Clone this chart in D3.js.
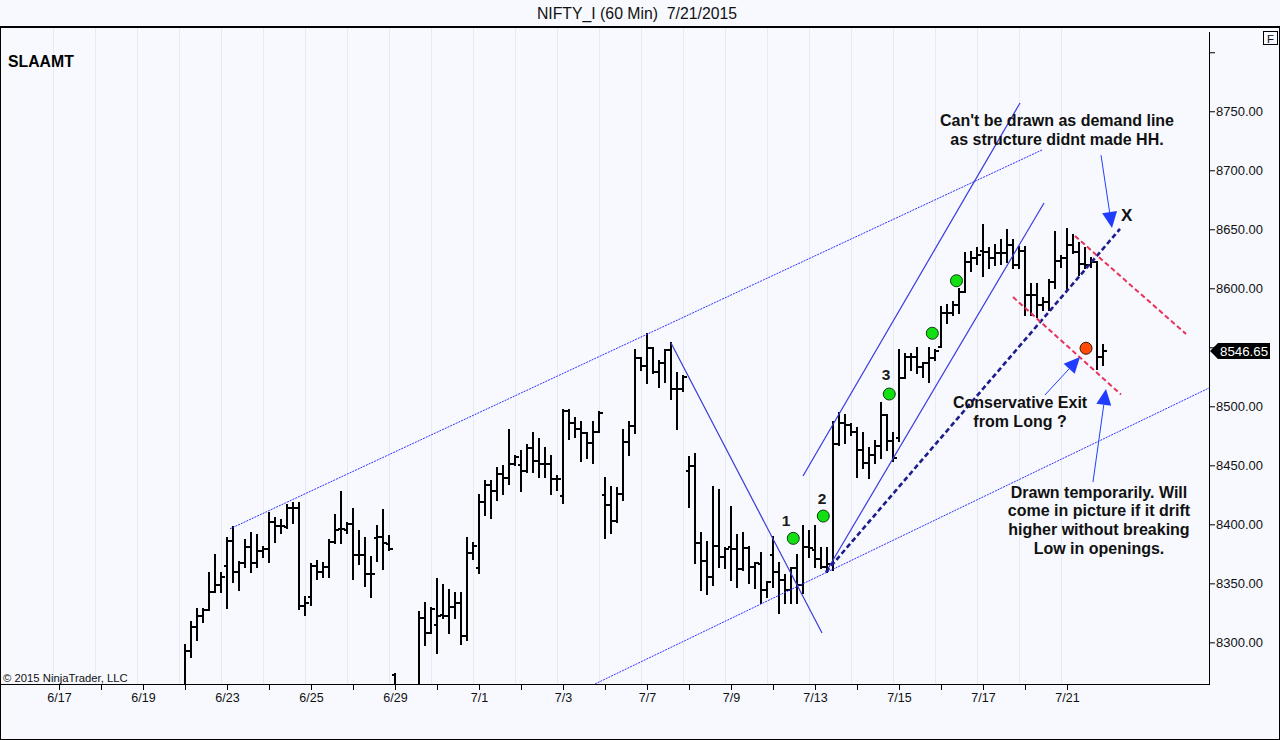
<!DOCTYPE html>
<html><head><meta charset="utf-8">
<script src="https://cdn.jsdelivr.net/npm/d3@7"></script>
<style>
html,body{margin:0;padding:0;background:#f7f9fe;}
svg{display:block;font-family:"Liberation Sans",Arial,sans-serif;}
</style></head><body>
<svg id="chart" width="1280" height="740"></svg>
<script>
// ---------- DATA ----------
const title = "NIFTY_I (60 Min)  7/21/2015";
const days = ["6/17","6/18","6/19","6/22","6/23","6/24","6/25","6/26","6/29","6/30","7/1","7/2","7/3","7/6","7/7","7/8","7/9","7/10","7/13","7/14","7/15","7/16","7/17","7/20","7/21"];
const barsPerDay = 7;
const firstDataDay = 3; // data starts 6/22

const opens = [8262,8293,8313,8322,8327,8343,8349, 8365,8386,8360,8367,8381,8367,8377, 8379,8402,8399,8398,8414,8414,8331,
  8338,8365,8360,8364,8385,8396,8395, 8400,8374,8374,8358,8388,8389,8383, 8272,8230,8220,8235,8250,8321,8308,
  8315,8323,8322,8330,8333,8305,8376, 8363,8419,8433,8428,8443,8439,8451, 8450,8445,8465,8454,8451,8451,8438,
  8424,8496,8486,8481,8477,8469,8478, 8425,8416,8403,8426,8470,8483,8541, 8534,8549,8529,8537,8548,8515,8515,
  8445,8449,8384,8369,8355,8382,8372, 8381,8379,8362,8380,8364,8366,8344, 8374,8360,8353,8344,8363,8349,8381,
  8378,8371,8364,8366,8468,8486,8484, 8478,8463,8452,8459,8466,8493,8471, 8473,8524,8542,8542,8533,8537,8541,
  8550,8579,8579,8586,8597,8622,8626, 8632,8631,8626,8630,8630,8637,8620, 8632,8594,8594,8586,8588,8605,8623,
  8626,8637,8631,8621,8620,8622,8542];
const highs = [8298,8317,8328,8328,8359,8374,8359, 8388,8398,8368,8387,8393,8391,8381, 8410,8405,8404,8416,8418,8418,8338,
  8366,8369,8367,8387,8408,8427,8401, 8413,8394,8388,8372,8399,8412,8390, 8273,8245,8240,8258,8326,8333,8329,
  8354,8349,8344,8342,8342,8388,8384, 8425,8437,8437,8448,8449,8480,8458, 8462,8467,8477,8472,8465,8458,8441,
  8497,8497,8490,8487,8477,8487,8495, 8439,8432,8431,8480,8487,8548,8541, 8561,8549,8538,8548,8554,8528,8526,
  8457,8460,8393,8385,8432,8429,8380, 8415,8391,8393,8381,8367,8376,8351, 8389,8367,8357,8363,8374,8399,8394,
  8399,8380,8380,8487,8494,8493,8485, 8482,8477,8465,8471,8503,8493,8477, 8548,8544,8544,8549,8537,8549,8548,
  8584,8586,8588,8599,8630,8631,8634, 8654,8634,8637,8641,8649,8641,8635, 8635,8604,8604,8592,8607,8648,8627,
  8650,8645,8638,8634,8626,8622,8552];
const lows = [8252,8288,8302,8317,8327,8343,8343, 8329,8351,8344,8364,8360,8364,8372, 8368,8385,8393,8397,8401,8328,8323,
  8332,8354,8355,8355,8384,8384,8393, 8354,8366,8348,8338,8369,8362,8378, 8215,8205,8200,8225,8248,8298,8308,
  8291,8321,8308,8321,8299,8302,8371, 8359,8408,8405,8421,8426,8434,8450, 8428,8444,8444,8440,8440,8426,8429,
  8418,8472,8474,8454,8456,8452,8478, 8388,8393,8402,8421,8459,8477,8531, 8520,8528,8516,8521,8506,8481,8513,
  8415,8367,8344,8341,8349,8364,8363, 8353,8347,8361,8350,8346,8333,8338, 8347,8325,8333,8333,8333,8342,8372,
  8364,8363,8360,8361,8467,8469,8476, 8440,8448,8439,8452,8456,8463,8454, 8471,8524,8531,8528,8525,8521,8539,
  8550,8571,8577,8579,8597,8615,8621, 8610,8617,8620,8621,8622,8617,8617, 8577,8577,8576,8582,8582,8600,8618,
  8599,8630,8611,8617,8618,8532,8535];
const closes = [8293,8313,8322,8327,8343,8349,8355, 8386,8360,8367,8381,8367,8377,8379, 8402,8399,8399,8414,8414,8331,8333,
  8365,8360,8364,8385,8395,8396,8400, 8374,8374,8358,8358,8389,8384,8379, 8230,8220,8235,8250,8321,8308,8328,
  8322,8322,8330,8333,8305,8376,8382, 8419,8433,8428,8443,8439,8451,8457, 8445,8465,8454,8451,8451,8438,8438,
  8496,8486,8481,8477,8469,8478,8494, 8416,8403,8426,8470,8483,8541,8534, 8549,8529,8537,8548,8515,8515,8525,
  8449,8384,8369,8355,8382,8372,8379, 8379,8362,8380,8364,8367,8344,8351, 8360,8353,8344,8363,8349,8381,8380,
  8371,8364,8366,8468,8486,8484,8478, 8463,8452,8459,8466,8493,8471,8456, 8524,8542,8542,8533,8537,8541,8547,
  8579,8579,8586,8597,8622,8626,8628, 8631,8626,8630,8630,8637,8620,8632, 8594,8594,8586,8588,8605,8623,8626,
  8637,8631,8621,8620,8622,8542,8546.65];
const lastPrice = 8546.65;
const yTicks = [8300,8350,8400,8450,8500,8550,8600,8650,8700,8750,8800];
const hiddenTickLabels = [8550,8800];

// drawn tools, in [bar index, price]
const channelUpper = [[28.5,8396.2],[163.83,8717.2]];
const channelLower = [[89.33,8264.7],[191.67,8515.5]];
const fallLine = [[102,8553.6],[127.17,8307.9]];
const steepUpper = [[124,8440.9],[160.17,8757]];
const steepLower = [[127.83,8359.6],[164.17,8672.3]];
const navyLine = [[127.83,8359.6],[176.83,8650.3]];
const redUpper = [[169.33,8644.3],[187.83,8561.3]];
const redLower = [[159,8592.6],[177,8510]];
const greenDots = [[122.38,8388.1],[127.38,8407],[138.38,8510.4],[145.55,8561.9],[149.58,8606.4]];
const exitDot = [171.17,8549.2];
const waveLabels = [["1",121.17,8398.6],["2",127.17,8417],["3",137.83,8522.3]];
const arrows = [[[173.67,8712.8],[175.5,8651.1]],[[164.33,8509.6],[170.17,8541.8]],[[172.33,8435.8],[174.5,8514.7]]];
const notes = [
  ["Can't be drawn as demand line",166.33,8737.5],["as structure didnt made HH.",166.33,8721.4],
  ["Conservative Exit",160.17,8498.6],["from Long ?",160.17,8482.5],
  ["Drawn temporarily. Will",173.33,8422.3],["come in picture if it drift",173.33,8407],
  ["higher without breaking",173.33,8390.9],["Low in openings.",173.33,8374.8]];
const xMark = ["X",177,8657];

// ---------- CHART ----------
const svg = d3.select("#chart");
const plot = {left:1,right:1209,top:27,bottom:684};
const x = d3.scaleLinear().domain([-9.667,191.667]).range([plot.left,plot.right]);
const y = d3.scaleLinear().domain([8264.7,8821.4]).range([plot.bottom,plot.top]);
const bg = "#f7f9fe";

svg.append("rect").attr("width",1280).attr("height",740).attr("fill",bg);

// title
svg.append("text").attr("x",637).attr("y",19).attr("text-anchor","middle")
  .style("white-space","pre").attr("font-size",15.8).attr("fill","#111").text(title);

// grid
svg.append("g").selectAll("line").data(days).join("line")
  .attr("x1",(d,k)=>x(k*barsPerDay-1)+0.5).attr("x2",(d,k)=>x(k*barsPerDay-1)+0.5)
  .attr("y1",plot.top+1).attr("y2",plot.bottom)
  .attr("stroke","#e7eaf3").attr("stroke-width",1);

// clip
svg.append("defs").append("clipPath").attr("id","clip").append("rect")
  .attr("x",plot.left).attr("y",plot.top).attr("width",plot.right-plot.left).attr("height",plot.bottom-plot.top);
const g = svg.append("g").attr("clip-path","url(#clip)");

// bars
const bars = opens.map((o,k)=>({i:firstDataDay*barsPerDay+k,o,h:highs[k],l:lows[k],c:closes[k]}));
const bg2 = g.append("g").attr("stroke","#000").attr("stroke-width",2).attr("shape-rendering","crispEdges");
bars.forEach(b=>{
  const px = Math.round(x(b.i));
  bg2.append("line").attr("x1",px).attr("x2",px).attr("y1",Math.round(y(b.h))-1).attr("y2",Math.round(y(b.l))+1);
  bg2.append("line").attr("x1",px-3).attr("x2",px).attr("y1",Math.round(y(b.o))).attr("y2",Math.round(y(b.o)));
  bg2.append("line").attr("x1",px).attr("x2",px+3.5).attr("y1",Math.round(y(b.c))).attr("y2",Math.round(y(b.c)));
});

// drawing tools
const ln = d3.line().x(d=>x(d[0])).y(d=>y(d[1]));
function seg(data,stroke,width,dash){
  const p = g.append("path").attr("d",ln(data)).attr("fill","none").attr("stroke",stroke).attr("stroke-width",width);
  if(dash) p.attr("stroke-dasharray",dash);
}
seg(channelUpper,"#3030ff",1,"2,1");
seg(channelLower,"#3030ff",1,"2,1");
seg(fallLine,"#3a3ad2",1.2);
seg(steepUpper,"#3a3ae0",1.2);
seg(steepLower,"#3a3ae0",1.2);
seg(navyLine,"#1c1c8c",2.6,"5,3");
seg(redUpper,"#e8325a",2,"5,3");
seg(redLower,"#e8325a",2,"5,3");

// arrows
arrows.forEach(([s,t])=>{
  const sx=x(s[0]),sy=y(s[1]),tx=x(t[0]),ty=y(t[1]);
  const dx=tx-sx,dy=ty-sy,len=Math.hypot(dx,dy),ux=dx/len,uy=dy/len;
  const hl=16,hw=7.5,bx=tx-ux*hl,by=ty-uy*hl;
  g.append("line").attr("x1",sx).attr("y1",sy).attr("x2",bx).attr("y2",by).attr("stroke","#2040ff").attr("stroke-width",1);
  g.append("path").attr("d",`M${tx},${ty}L${bx-uy*hw},${by+ux*hw}L${bx+uy*hw},${by-ux*hw}Z`).attr("fill","#1f3cff");
});

// dots
g.selectAll("circle.gd").data(greenDots).join("circle").attr("class","gd")
  .attr("cx",d=>x(d[0])).attr("cy",d=>y(d[1])).attr("r",6)
  .attr("fill","#12e012").attr("stroke","#0b3b0b").attr("stroke-width",1);
g.append("circle").attr("cx",x(exitDot[0])).attr("cy",y(exitDot[1])).attr("r",6)
  .attr("fill","#ff4a0a").attr("stroke","#3a1500").attr("stroke-width",1);

// labels
g.selectAll("text.wl").data(waveLabels).join("text").attr("class","wl")
  .attr("x",d=>x(d[1])).attr("y",d=>y(d[2])).attr("text-anchor","middle")
  .attr("font-size",15.5).attr("font-weight","bold").attr("fill","#1a1a1a").text(d=>d[0]);
g.selectAll("text.nt").data(notes).join("text").attr("class","nt")
  .attr("x",d=>x(d[1])).attr("y",d=>y(d[2])).attr("text-anchor","middle")
  .attr("font-size",16).attr("font-weight","bold").attr("fill","#111").text(d=>d[0]);
g.append("text").attr("x",x(xMark[1])).attr("y",y(xMark[2])).attr("font-size",17).attr("font-weight","bold")
  .attr("fill","#111").text(xMark[0]);

// left texts
svg.append("text").attr("x",8).attr("y",67).attr("font-size",15.8).attr("font-weight","bold").attr("fill","#000").text("SLAAMT");
svg.append("text").attr("x",3).attr("y",681.5).attr("font-size",11.3).attr("fill","#111").text("\u00a9 2015 NinjaTrader, LLC");

// axes
const yAxis = d3.axisRight(y).tickValues(yTicks).tickSize(6).tickPadding(1)
  .tickFormat(d=> hiddenTickLabels.includes(d) ? "" : d3.format(".2f")(d));
const ya = svg.append("g").attr("transform",`translate(${plot.right},0)`).call(yAxis);
ya.select(".domain").remove();
ya.selectAll("text").attr("font-size",13).attr("fill","#111").attr("font-family","Liberation Sans, Arial, sans-serif");
ya.selectAll("line").attr("stroke","#000");

const xAxis = d3.axisBottom(x).tickValues(days.map((d,k)=>k*barsPerDay)).tickSize(6).tickPadding(3)
  .tickFormat((d,k)=> k%2===0 ? days[k] : "");
const xa = svg.append("g").attr("transform",`translate(0,${plot.bottom})`).call(xAxis);
xa.select(".domain").remove();
xa.selectAll("text").attr("font-size",12.5).attr("fill","#111").attr("font-family","Liberation Sans, Arial, sans-serif");
xa.selectAll("line").attr("stroke","#000");

// frame lines
const fr = svg.append("g").attr("stroke","#000").attr("stroke-width",1.3).attr("shape-rendering","crispEdges");
fr.append("line").attr("x1",0).attr("x2",1280).attr("y1",27).attr("y2",27);
fr.append("line").attr("x1",0.5).attr("x2",0.5).attr("y1",27).attr("y2",740);
fr.append("line").attr("x1",1279.5).attr("x2",1279.5).attr("y1",27).attr("y2",740);
fr.append("line").attr("x1",0).attr("x2",1280).attr("y1",739.5).attr("y2",739.5);
fr.append("line").attr("x1",0).attr("x2",plot.right).attr("y1",plot.bottom+0.5).attr("y2",plot.bottom+0.5);
fr.append("line").attr("x1",plot.right+0.5).attr("x2",plot.right+0.5).attr("y1",32).attr("y2",plot.bottom+0.5);

// price tag
const ty0 = Math.round(y(lastPrice));
svg.append("path").attr("d",`M1210,${ty0}L1218,${ty0-8}L1270,${ty0-8}L1270,${ty0+8}L1218,${ty0+8}Z`).attr("fill","#000");
svg.append("text").attr("x",1220).attr("y",ty0+5).attr("font-size",13.3).attr("fill","#fff").text(d3.format(".2f")(lastPrice));

// F box
svg.append("rect").attr("x",1263.5).attr("y",31.5).attr("width",14).attr("height",13).attr("fill","none").attr("stroke","#000");
svg.append("text").attr("x",1270.5).attr("y",42.5).attr("text-anchor","middle").attr("font-size",11.5).attr("fill","#111").text("F");
</script>
</body></html>
